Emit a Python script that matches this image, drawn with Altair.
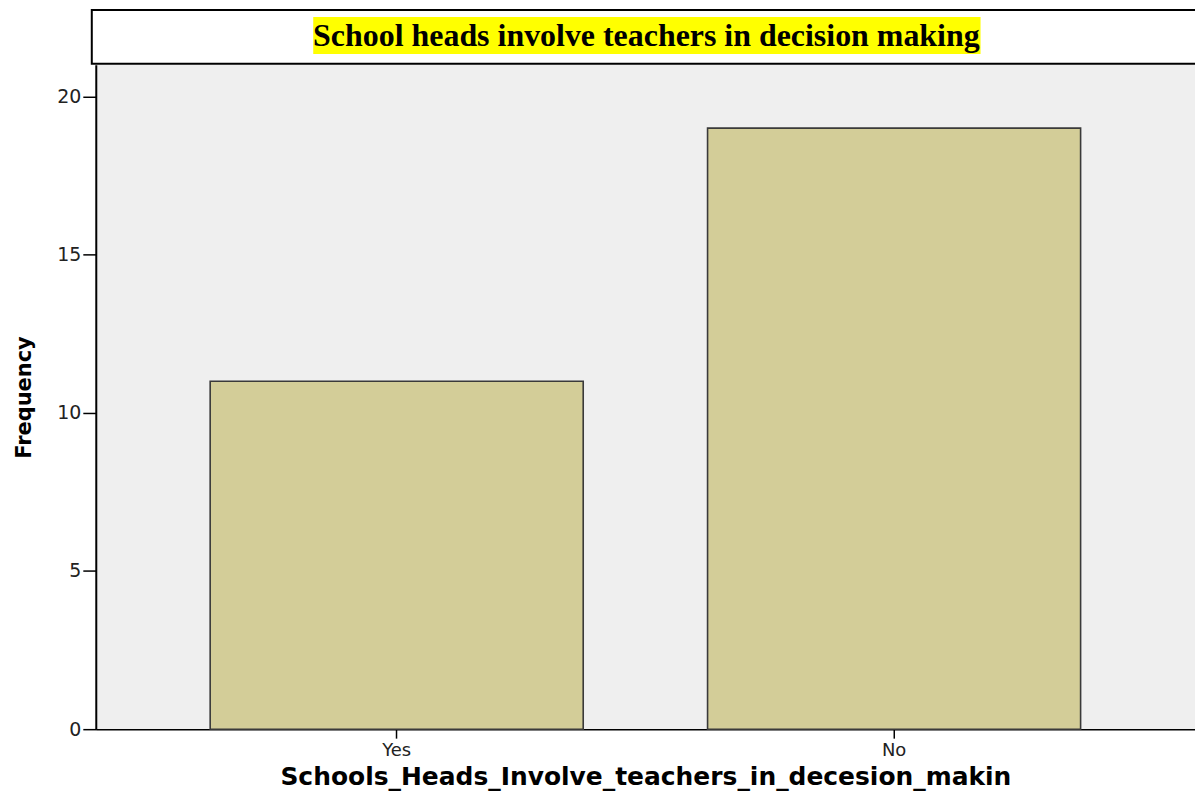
import altair as alt
import pandas as pd

categories = ["Yes", "No"]
frequencies = [11, 19]
y_ticks = [0, 5, 10, 15, 20]
title_text = "School heads involve teachers in decision making"
x_title = "Schools_Heads_Involve_teachers_in_decesion_makin"
y_title = "Frequency"

df = pd.DataFrame({"answer": categories, "frequency": frequencies})
title_df = pd.DataFrame({"label": [title_text]})

W, H = 1102, 666

bars = alt.Chart(df).mark_bar(
    fill="#d3cd98", stroke="#3a3a3a", strokeWidth=1.6
).encode(
    x=alt.X(
        "answer:N", sort=categories,
        scale=alt.Scale(paddingInner=0.25, paddingOuter=0.23),
        axis=alt.Axis(
            title=x_title, labelAngle=0, labelFont="DejaVu Sans", labelFontSize=18,
            labelColor="#222222", labelPadding=3, tickSize=9, tickColor="#000000",
            tickWidth=1.5, domainColor="#000000", domainWidth=1.5,
            titleFont="DejaVu Sans", titleFontSize=25, titleFontWeight="bold",
            titleColor="#000000", titlePadding=5,
        ),
    ),
    y=alt.Y(
        "frequency:Q",
        scale=alt.Scale(domain=[0, 21], nice=False),
        axis=alt.Axis(
            title=y_title, values=y_ticks, grid=False, labelFont="DejaVu Sans",
            labelFontSize=19, labelColor="#222222", labelPadding=2, tickSize=13,
            tickColor="#000000", tickWidth=1.5, domainColor="#000000", domainWidth=2,
            titleFont="DejaVu Sans", titleFontSize=21, titleFontWeight="bold",
            titleColor="#000000", titlePadding=22,
        ),
    ),
)

box = alt.Chart(title_df).mark_rect(
    fill="#ffffff", stroke="#000000", strokeWidth=2
).encode(
    x=alt.value(-4), x2=alt.value(W + 20), y=alt.value(-55), y2=alt.value(-1)
)

highlight = alt.Chart(title_df).mark_rect(fill="#ffff00").encode(
    x=alt.value(218), x2=alt.value(887), y=alt.value(-48), y2=alt.value(-11)
)

title = alt.Chart(title_df).mark_text(
    font="Liberation Serif", fontSize=32, fontWeight="bold", color="#000000",
    align="center", baseline="middle"
).encode(
    x=alt.value(552), y=alt.value(-29), text="label:N"
)

chart = alt.layer(box, highlight, title, bars).properties(
    width=W, height=H,
    autosize=alt.AutoSizeParams(type="none"),
    padding={"left": 88, "top": 56, "right": 0, "bottom": 66},
    background="#ffffff",
).configure_view(fill="#efefef", strokeWidth=0)

chart.save("out.html", embed_options={"renderer": "svg", "actions": False})
